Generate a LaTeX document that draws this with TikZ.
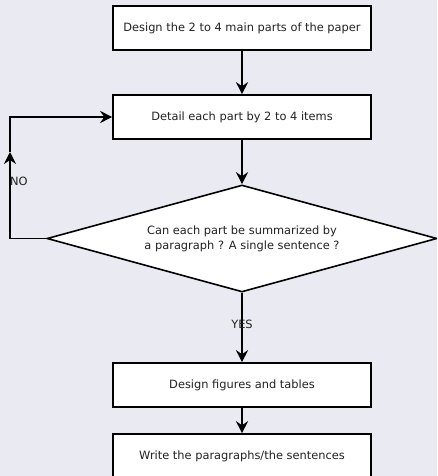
\documentclass[tikz,border=0pt]{standalone}
\usepackage{fontspec}
\setmainfont{DejaVu Sans}
\usetikzlibrary{shapes.geometric,arrows.meta}
\definecolor{bgc}{HTML}{EAEAF2}
\definecolor{txt}{HTML}{222222}
\tikzset{
  stepbox/.style={draw=black, fill=white, line width=1.6pt, minimum width=258pt, minimum height=44pt, inner sep=0pt, text=txt, font=\fontsize{11.4}{15}\selectfont},
  decision/.style={diamond, draw=black, fill=white, line width=1.6pt, aspect=3.64, minimum width=390pt, minimum height=107pt, inner sep=0pt, text=txt, align=center, font=\fontsize{11.4}{15}\selectfont},
  conn/.style={line width=1.8pt, -{Stealth[length=12pt,width=12pt,inset=4pt]}},
  lbl/.style={text=txt, inner sep=0pt, font=\fontsize{11.4}{15}\selectfont}
}
\begin{document}
\begin{tikzpicture}[x=1pt,y=-1pt]
\useasboundingbox (0,0) rectangle (437,476);
\fill[bgc] (0,0) rectangle (437,476);
\clip (0,0) rectangle (437,476);
\node[stepbox] (b1) at (242,28) {Design the 2 to 4 main parts of the paper};
\node[stepbox] (b2) at (242,117) {Detail each part by 2 to 4 items};
\node[decision] (d) at (242,238.5) {Can each part be summarized by\\a paragraph ? A single sentence ?};
\node[stepbox] (b3) at (242,385) {Design figures and tables};
\node[stepbox] (b4) at (242,456) {Write the paragraphs/the sentences};
\coordinate (c1) at (10,238.5);
\coordinate (cm) at (10,152);
\coordinate (c2) at (10,117);
\draw[conn] (b1) -- (b2);
\draw[conn] (b2) -- (d);
\draw[conn] (d) -- (b3);
\draw[conn] (b3) -- (b4);
\draw[conn] (d.west) -- (c1) -- (cm);
\draw[conn] (cm) -- (c2) -- (b2.west);
\node[lbl, anchor=west] (no) at (10,181) {NO};
\node[lbl] (yes) at (242,324) {YES};
\end{tikzpicture}
\end{document}
